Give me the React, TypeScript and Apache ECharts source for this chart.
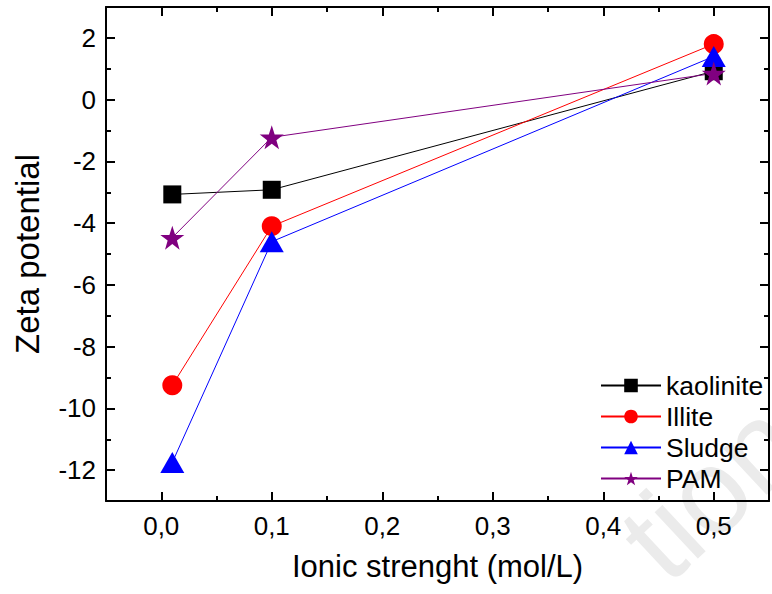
import React, { useEffect, useRef } from "react";
import * as echarts from "echarts";

const xValues = [0.01, 0.1, 0.5];
const kaolinite = [-3.07, -2.92, 0.92];
const illite = [-9.25, -4.1, 1.8];
const sludge = [-11.75, -4.6, 1.4];
const pam = [-4.47, -1.22, 0.85];
const seriesNames = ["kaolinite", "Illite", "Sludge", "PAM"];
const xTitle = "Ionic strenght (mol/L)";
const yTitle = "Zeta potential";

const FONT = "Liberation Sans, Arial, sans-serif";
const STAR = "path://M50,0 L61.8,35.1 L98.5,35.1 L68.8,56.7 L79.4,91 L50,70 L20.6,91 L31.2,56.7 L1.5,35.1 L38.2,35.1 Z";

function pts(ys: number[]) {
  return xValues.map((x, i) => [x, ys[i]]);
}

export default function App() {
  const ref = useRef<HTMLDivElement>(null);
  useEffect(() => {
    if (!ref.current) return;
    const chart = echarts.init(ref.current, undefined, { renderer: "svg" });
    const axisLine = { show: true, onZero: false, lineStyle: { color: "#000", width: 2 } };
    const noLine = { show: false, onZero: false };
    const majorTick = { show: true, inside: true, length: 9, lineStyle: { color: "#000", width: 2 } };
    const minorTick = { show: true, inside: true, length: 5, lineStyle: { color: "#000", width: 2 } };
    const xFmt = (v: number) => {
      const k = Math.round(v * 10);
      if (Math.abs(v * 10 - k) > 1e-6 || v < -1e-9 || v > 0.5 + 1e-9) return "";
      return (k / 10).toFixed(1).replace(".", ",");
    };
    const yFmt = (v: number) => {
      const k = Math.round(v);
      if (Math.abs(v - k) > 1e-6 || k % 2 !== 0) return "";
      return String(k);
    };
    const xBase = { type: "value", min: -0.05, max: 0.55, splitLine: { show: false } };
    const yBase = { type: "value", min: -13, max: 3, splitLine: { show: false } };
    const mk = (name: string, data: number[], color: string, symbol: string, size: any) => ({
      name,
      type: "line",
      data: pts(data),
      xAxisIndex: 0,
      yAxisIndex: 0,
      symbol,
      symbolSize: size,
      showAllSymbol: true,
      lineStyle: { color, width: 1 },
      itemStyle: { color },
      z: 3,
    });
    chart.setOption({
      animation: false,
      backgroundColor: "#fff",
      grid: { left: 106, top: 7, width: 672, height: 494, containLabel: false },
      xAxis: [
        {
          ...xBase,
          position: "bottom",
          splitNumber: 6,
          axisLine,
          axisTick: majorTick,
          axisLabel: { formatter: xFmt, fontSize: 26, color: "#000", fontFamily: FONT, margin: 12 },
          name: xTitle,
          nameLocation: "middle",
          nameGap: 50,
          nameTextStyle: { fontSize: 31, color: "#000", fontFamily: FONT },
        },
        { ...xBase, position: "top", splitNumber: 6, axisLine, axisTick: majorTick, axisLabel: { show: false } },
        { ...xBase, position: "bottom", interval: 0.1, axisLine: noLine, axisTick: minorTick, axisLabel: { show: false } },
        { ...xBase, position: "top", interval: 0.1, axisLine: noLine, axisTick: minorTick, axisLabel: { show: false } },
      ],
      yAxis: [
        {
          ...yBase,
          position: "left",
          splitNumber: 8,
          axisLine,
          axisTick: majorTick,
          axisLabel: { formatter: yFmt, fontSize: 26, color: "#000", fontFamily: FONT, margin: 10 },
          name: yTitle,
          nameLocation: "middle",
          nameGap: 62,
          nameRotate: 90,
          nameTextStyle: { fontSize: 33, color: "#000", fontFamily: FONT },
        },
        { ...yBase, position: "right", splitNumber: 8, axisLine, axisTick: majorTick, axisLabel: { show: false } },
        { ...yBase, position: "left", interval: 2, axisLine: noLine, axisTick: minorTick, axisLabel: { show: false } },
        { ...yBase, position: "right", interval: 2, axisLine: noLine, axisTick: minorTick, axisLabel: { show: false } },
      ],
      legend: {
        orient: "vertical",
        left: 595,
        top: 367,
        itemWidth: 60,
        itemHeight: 17,
        itemGap: 4,
        data: seriesNames,
        textStyle: { fontSize: 26.5, color: "#000", fontFamily: FONT },
      },
      graphic: [
        {
          type: "text",
          x: 680,
          y: 600,
          rotation: 0.75,
          z: -10,
          silent: true,
          style: { text: "tion", fontSize: 120, fontFamily: FONT, fill: "#ebebeb", textVerticalAlign: "bottom" },
        },
      ],
      series: [
        mk(seriesNames[0], kaolinite, "#000000", "rect", 18),
        mk(seriesNames[1], illite, "#ff0000", "circle", 20),
        mk(seriesNames[2], sludge, "#0000ff", "triangle", [24, 21]),
        mk(seriesNames[3], pam, "#800080", STAR, 24),
      ],
    });
    return () => chart.dispose();
  }, []);
  return <div ref={ref} style={{ position: "fixed", left: 0, top: 0, width: 772, height: 594 }} />;
}
